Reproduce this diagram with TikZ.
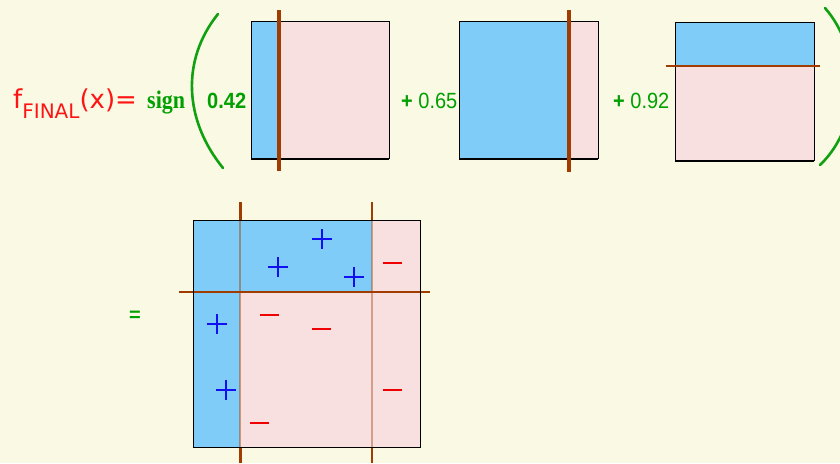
\documentclass[tikz,border=0pt]{standalone}
\usepackage{fontspec}
\setmainfont{Liberation Sans}
\newfontfamily\dvs{DejaVu Sans}
\newfontfamily\lserif{Liberation Serif}
\definecolor{bg}{RGB}{249,249,228}
\definecolor{skyb}{RGB}{128,204,248}
\definecolor{pinkr}{RGB}{248,224,224}
\definecolor{brn}{RGB}{160,60,0}
\definecolor{grn}{RGB}{0,160,0}
\definecolor{pgrn}{RGB}{16,160,16}
\definecolor{fred}{RGB}{255,20,20}
\definecolor{pblue}{RGB}{16,16,240}
\definecolor{mred}{RGB}{240,0,0}
\tikzset{
  boxline/.style={draw=black,line width=1pt},
  botline/.style={draw=black,line width=2pt},
  cutthick/.style={draw=brn,line width=3.5pt},
  cutmid/.style={draw=brn,line width=2.6pt},
  paren/.style={draw=pgrn,line width=2.6pt,line cap=round},
  gtext/.style={text=grn,inner sep=0pt,anchor=base west},
  plusline/.style={draw=pblue,line width=2pt},
  minusline/.style={draw=mred,line width=2.3pt},
  plusmark/.pic={\draw[plusline] (-10,0)--(10,0) (0,-10)--(0,10);},
  minusmark/.pic={\draw[minusline] (-9.5,0)--(9.5,0);}
}
\begin{document}
\begin{tikzpicture}[x=1pt,y=-1pt]
\useasboundingbox (0,0) rectangle (840,463);
\fill[bg] (0,0) rectangle (840,463);
\clip (0,0) rectangle (840,463);

% formula text
\node[inner sep=0pt,anchor=base west,text=fred] (ffinal) at (13,108)
  {\dvs\fontsize{26}{30}\selectfont f\raisebox{-10pt}{\fontsize{20}{24}\selectfont FINAL}(x)=};
\node[gtext] (sign) at (147,108) {\scalebox{1}[1.15]{\lserif\bfseries\fontsize{22}{26}\selectfont sign}};
\node[gtext] (c1) at (207,108) {\scalebox{1}[1.1]{\bfseries\fontsize{20}{24}\selectfont 0.42}};
\node[gtext] (c2) at (401,108) {\scalebox{1}[1.1]{\fontsize{20}{24}\selectfont\textbf{+} 0.65}};
\node[gtext] (c3) at (613,108) {\scalebox{1}[1.1]{\fontsize{20}{24}\selectfont\textbf{+} 0.92}};
\node[gtext] (eq) at (129,321) {\bfseries\fontsize{20}{24}\selectfont =};

% parentheses
\draw[paren] (218,14) .. controls (181,60) and (184,120) .. (223,168);
\draw[paren] (825,8) .. controls (862,50) and (862,125) .. (820,165);

% box 1
\fill[pinkr] (251,21) rectangle (389,159);
\fill[skyb] (251,21) rectangle (279,159);
\draw[boxline] (251,159) -- (251,21) -- (389,21) -- (389,159);
\draw[botline] (251,159) -- (389,159);
\coordinate (b1t) at (279,10);
\coordinate (b1b) at (279,171);
\draw[cutthick] (b1t) -- (b1b);

% box 2
\fill[skyb] (459,21) rectangle (598,159);
\fill[pinkr] (569,21) rectangle (598,159);
\draw[boxline] (459,159) -- (459,21) -- (598,21) -- (598,159);
\draw[botline] (459,159) -- (598,159);
\coordinate (b2t) at (569,10);
\coordinate (b2b) at (569,172);
\draw[cutthick] (b2t) -- (b2b);

% box 3
\fill[pinkr] (675,22) rectangle (814,161);
\fill[skyb] (675,22) rectangle (814,66);
\draw[boxline] (675,161) -- (675,22) -- (814,22) -- (814,161);
\draw[botline] (675,161) -- (814,161);
\coordinate (b3l) at (666,66);
\coordinate (b3r) at (820,66);
\draw[cutmid] (b3l) -- (b3r);

% bottom combined box
\fill[pinkr] (193,220) rectangle (420,447);
\fill[skyb] (193,220) rectangle (240,447);
\fill[skyb] (240,220) rectangle (372,292);
% cut lines outside the box
\draw[draw=brn,line width=3pt] (240,202) -- (240,220) (240,447) -- (240,463);
\draw[draw=brn,line width=1.5pt] (372,202) -- (372,220) (372,447) -- (372,463);
\draw[draw=brn,line width=2.7pt] (179,292) -- (193,292) (420,292) -- (430,292);
% cut lines inside the box
\draw[draw=brn,line width=2.6pt,opacity=0.45] (240,220) -- (240,447);
\draw[draw=brn,line width=2pt,opacity=0.4] (372,220) -- (372,447);
\draw[draw=brn,line width=1.3pt] (193,292) -- (420,292);
\draw[draw=black,line width=1pt] (193,220) rectangle (420,447);

% samples
\pic at (321.7,239.3) {plusmark};
\pic at (278.3,267.3) {plusmark};
\pic at (354,277.3) {plusmark};
\pic at (216.7,324.3) {plusmark};
\pic at (226,390) {plusmark};
\pic at (392,263) {minusmark};
\pic at (269,314.7) {minusmark};
\pic at (321,328.7) {minusmark};
\pic at (392,389.7) {minusmark};
\pic at (259.3,423) {minusmark};
\end{tikzpicture}
\end{document}
